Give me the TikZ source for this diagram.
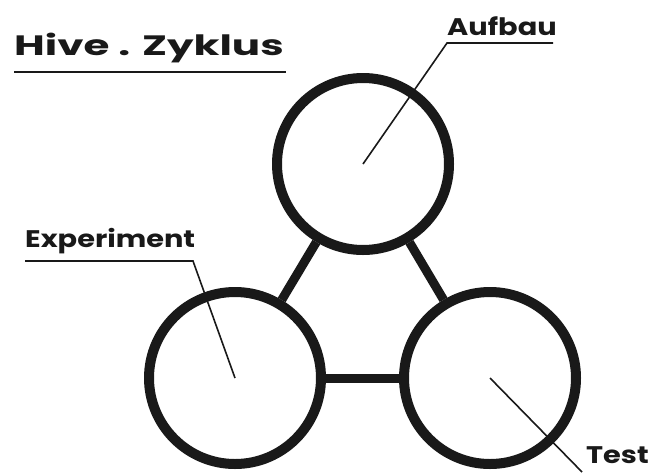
\documentclass[tikz,border=0pt]{standalone}
\usepackage{graphicx}
\usepackage{fontspec}
\setmainfont{Poppins}
\usetikzlibrary{positioning}

\newcommand{\breit}[2]{\scalebox{#1}[1]{#2}}

\tikzset{
  ring/.style={circle, draw=black!90, line width=10pt, minimum size=172pt, inner sep=0pt},
  link/.style={draw=black!90, line width=9pt},
  leader/.style={draw=black!90, line width=1.6pt},
  tag/.style={font=\bfseries\fontsize{24}{26}\selectfont, inner sep=0pt, text=black!90}
}

\begin{document}
\begin{tikzpicture}[x=1pt, y=-1pt]

\useasboundingbox (0,0) rectangle (653,472);

% ---------- Titel ----------
\node[tag, font=\bfseries\fontsize{28}{30}\selectfont, anchor=south west] (titel) at (14,63) {\breit{1.5}{Hive . Zyklus}};
\draw[leader, line width=2pt] (14,72) -- (286,72);

% ---------- Kreise ----------
\node[ring] (aufbau) at (363,164) {};
\node[ring] (experiment) at (235,378) {};
\node[ring] (test) at (490,378) {};

% ---------- Verbindungen ----------
\draw[link] (aufbau) -- (experiment);
\draw[link] (aufbau) -- (test);
\draw[link] (experiment) -- (test);

% ---------- Beschriftungen ----------
\coordinate (A1) at (447,43);
\coordinate (A2) at (553,43);
\draw[leader] (aufbau.center) -- (A1) -- (A2);
\node[tag, anchor=south west] (aufbaulbl) at (447,36) {\breit{1.2}{Aufbau}};

\coordinate (E1) at (193,261);
\coordinate (E2) at (25,261);
\draw[leader] (experiment.center) -- (E1) -- (E2);
\node[tag, anchor=south west] (experimentlbl) at (25,254) {\breit{1.2}{Experiment}};

\coordinate (T1) at (582,472);
\draw[leader] (test.center) -- (T1);
\node[tag, anchor=west] (testlbl) at (586,455) {\breit{1.2}{Test}};

\end{tikzpicture}
\end{document}
